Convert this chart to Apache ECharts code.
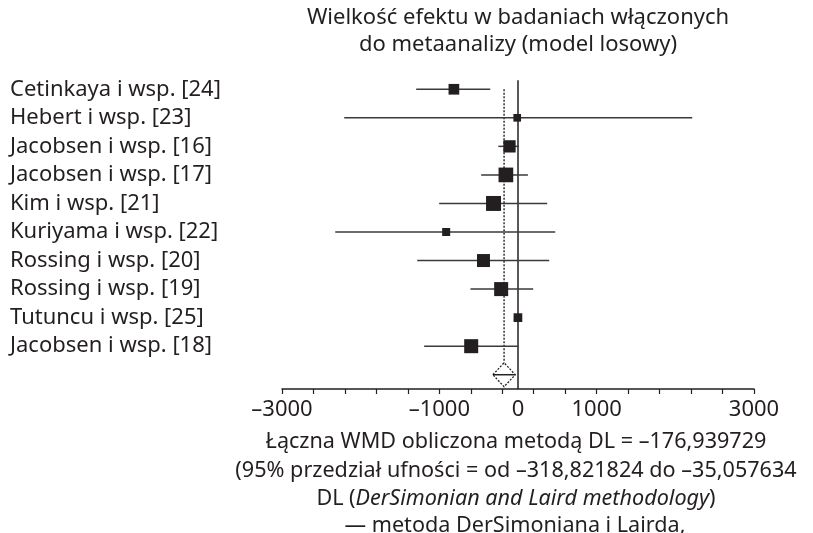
<!DOCTYPE html>
<html>
<head>
<meta charset="utf-8">
<script src="https://cdn.jsdelivr.net/npm/echarts@6/dist/echarts.min.js"></script>
<style>
html,body{margin:0;padding:0;background:#fff;}
#chart{width:813px;height:533px;}
</style>
</head>
<body>
<div id="chart"></div>
<script>
// ---- data ----
const studies = [
  'Cetinkaya i wsp. [24]',
  'Hebert i wsp. [23]',
  'Jacobsen i wsp. [16]',
  'Jacobsen i wsp. [17]',
  'Kim i wsp. [21]',
  'Kuriyama i wsp. [22]',
  'Rossing i wsp. [20]',
  'Rossing i wsp. [19]',
  'Tutuncu i wsp. [25]',
  'Jacobsen i wsp. [18]'
];
const estimates = [-815, -10, -108, -154, -311, -913, -439, -214, -1, -595];
const ciLower   = [-1294, -2209, -250, -468, -1002, -2323, -1281, -604, -40, -1193];
const ciUpper   = [-353, 2215, 13, 126, 371, 473, 397, 193, 38, 3];
const weights   = [7.8, 4.0, 10.3, 14.7, 15.3, 4.4, 11.5, 13.4, 5.2, 13.4]; // % weight (box area)
const pooled = { est: -176.939729, lo: -318.821824, hi: -35.057634 };
const tickValues  = [-3000, -2600, -2200, -1800, -1400, -1000, -600, -200, 200, 600, 1000, 1400, 1800, 2200, 2600, 3000];
const labelValues = [-3000, -1000, 0, 1000, 3000];

const titleLines = ['Wielkość efektu w badaniach włączonych', 'do metaanalizy (model losowy)'];
const footLine1 = 'Łączna WMD obliczona metodą DL = –176,939729';
const footLine2 = '(95% przedział ufności = od –318,821824 do –35,057634';
const footLine4 = '— metoda DerSimoniana i Lairda,';

// ---- chart ----
const FONT = '"Noto Sans", "Open Sans", sans-serif';
const INK = '#231f20';
const chart = echarts.init(document.getElementById('chart'), null, { renderer: 'canvas' });

const categories = studies.concat(['']);
const studyData = studies.map((s, i) => [i, estimates[i], ciLower[i], ciUpper[i], weights[i]]);
const pooledIndex = studies.length;

function renderStudy(params, api) {
  const yi = api.value(0);
  const c = api.coord([api.value(1), yi]);
  const l = api.coord([api.value(2), yi]);
  const h = api.coord([api.value(3), yi]);
  const s = Math.sqrt(api.value(4) * 14.66);
  return {
    type: 'group',
    children: [
      { type: 'line', shape: { x1: l[0], y1: l[1], x2: h[0], y2: h[1] },
        style: { stroke: '#3a3a3a', lineWidth: 1.5 } },
      { type: 'rect', shape: { x: c[0] - s / 2, y: c[1] - s / 2, width: s, height: s },
        style: { fill: INK } }
    ]
  };
}

function renderPooled(params, api) {
  const yi = api.value(0);
  const c = api.coord([api.value(1), yi]);
  const l = api.coord([api.value(2), yi]);
  const h = api.coord([api.value(3), yi]);
  const top = api.coord([api.value(1), 0]);
  const zeroTop = api.coord([0, 0]);
  const cs = params.coordSys;
  const hh = 12;
  return {
    type: 'group',
    children: [
      { type: 'line', shape: { x1: zeroTop[0], y1: zeroTop[1] - 9, x2: zeroTop[0], y2: cs.y + cs.height },
        style: { stroke: INK, lineWidth: 1.5 } },
      { type: 'line', shape: { x1: c[0], y1: top[1], x2: c[0], y2: c[1] - hh },
        style: { stroke: '#333', lineWidth: 1.5, lineDash: [2, 1.5] } },
      { type: 'polygon', shape: { points: [[l[0], c[1]], [c[0], c[1] - hh], [h[0], c[1]], [c[0], c[1] + hh]] },
        style: { fill: '#fff', stroke: '#222', lineWidth: 1.3, lineDash: [2, 1.5] } },
      { type: 'line', shape: { x1: l[0], y1: c[1], x2: h[0], y2: c[1] },
        style: { stroke: '#222', lineWidth: 1.5 } }
    ]
  };
}

const TXT = (text, x, y, size) => ({
  type: 'text', x: x, y: y,
  style: { text: text, font: size + 'px ' + FONT, fill: INK, align: 'center', verticalAlign: 'middle' }
});

const option = {
  animation: false,
  backgroundColor: '#fff',
  grid: { left: 282, right: 59, top: 75, bottom: 144, containLabel: false },
  xAxis: {
    type: 'value',
    min: -3000, max: 3000,
    axisLine: { show: true, lineStyle: { color: INK, width: 1.5 } },
    axisTick: { show: true, customValues: tickValues, length: 5, lineStyle: { color: INK, width: 1.2 } },
    axisLabel: {
      customValues: labelValues,
      margin: 10,
      color: INK,
      fontFamily: FONT,
      fontSize: 22,
      formatter: v => String(v).replace('-', '–')
    },
    splitLine: { show: false }
  },
  yAxis: {
    type: 'category',
    inverse: true,
    data: categories,
    axisLine: { show: false },
    axisTick: { show: false },
    axisLabel: { interval: 0, hideOverlap: false, align: 'left', margin: 272, color: INK, fontFamily: FONT, fontSize: 22 },
    splitLine: { show: false }
  },
  series: [
    { type: 'custom', name: 'studies', renderItem: renderStudy, data: studyData,
      encode: { x: [1, 2, 3], y: 0 }, clip: false, z: 3 },
    { type: 'custom', name: 'pooled', renderItem: renderPooled,
      data: [[pooledIndex, pooled.est, pooled.lo, pooled.hi]],
      encode: { x: [1, 2, 3], y: 0 }, clip: false, z: 2 }
  ],
  graphic: [
    TXT(titleLines[0], 518, 18, 22),
    TXT(titleLines[1], 518, 45, 22),
    TXT(footLine1, 516, 442, 21.6),
    TXT(footLine2, 516, 471, 21.6),
    { type: 'text', x: 516, y: 499, style: {
        text: 'DL ({it|DerSimonian and Laird methodology})',
        font: '21.6px ' + FONT, fill: INK, align: 'center', verticalAlign: 'middle',
        rich: { it: { fontStyle: 'italic', fontFamily: FONT, fontSize: 21.6, fill: INK } } } },
    TXT(footLine4, 515, 526, 21.6)
  ]
};
chart.setOption(option);
</script>
</body>
</html>
